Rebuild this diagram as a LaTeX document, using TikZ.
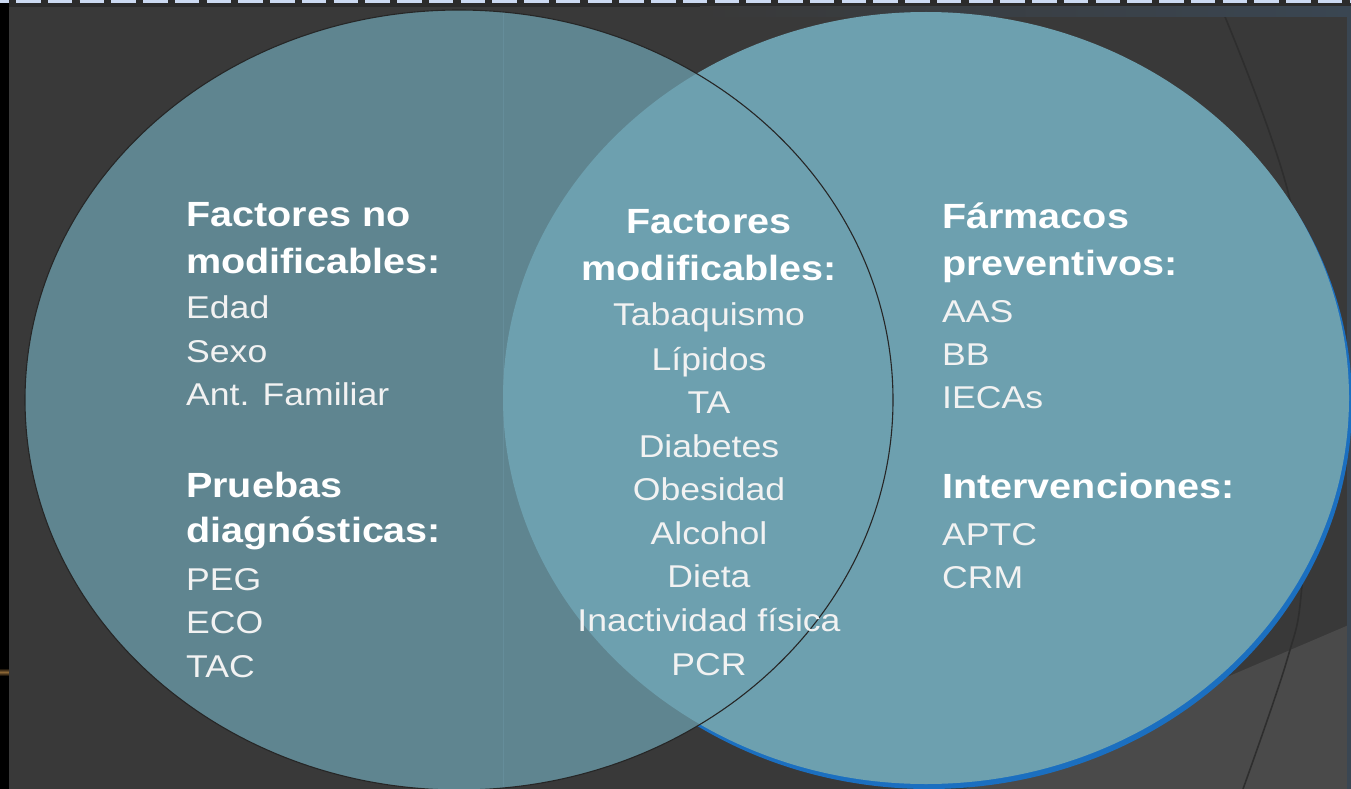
\documentclass[tikz,border=0pt]{standalone}
\usepackage{fontspec}
\newfontfamily\vfont{Liberation Sans}[FakeStretch=1.13]
\definecolor{bgc}{HTML}{393939}
\definecolor{leftc}{HTML}{5F8590}
\definecolor{rightc}{HTML}{6DA0AF}
\definecolor{shadowc}{HTML}{1B6FC0}
\definecolor{dashc}{HTML}{CCDAF2}
\definecolor{outc}{HTML}{262626}
\definecolor{lightbg}{HTML}{4A4A4A}
\definecolor{topdark}{HTML}{2B2B2B}
\definecolor{tintc}{HTML}{3A4652}
\definecolor{glintc}{HTML}{8A6535}
\definecolor{decoc}{HTML}{2E2E2E}
\definecolor{vlinec}{HTML}{658D9A}
\definecolor{itemc}{HTML}{F2F2F2}
\begin{document}
\begin{tikzpicture}[x=1pt,y=-1pt,
  head/.style={font=\vfont\bfseries\fontsize{35}{42}\selectfont, text=white, inner sep=0pt},
  item/.style={font=\vfont\fontsize{31.5}{38}\selectfont, text=itemc, inner sep=0pt},
  lcol/.style={anchor=base west},
  ccol/.style={anchor=base}]
\useasboundingbox (0,0) rectangle (1351,789);
\clip (0,0) rectangle (1351,789);
% background
\fill[bgc] (0,0) rectangle (1351,789);
\fill[lightbg] (965,789) -- (1351,624) -- (1351,789) -- cycle;
\draw[decoc, line width=1.6pt] plot[smooth, tension=0.6] coordinates {(1218,0) (1290,200) (1310,400) (1302,585) (1287,660) (1243,789)};
% top band
\fill[topdark] (0,0) rectangle (1351,7);
\draw[dashc, line width=3.5pt, dash pattern=on 24.5pt off 7.25pt] (-15.75,1.75) -- (1360,1.75);
\shade[left color=bgc, right color=tintc] (700,7) rectangle (1351,17);
\fill[tintc] (1347,7) rectangle (1351,789);
% left black strip
\fill[black] (0,3.5) rectangle (8.5,789);
\shade[top color=black, bottom color=black, middle color=glintc] (0,668) rectangle (8.5,676);
% ellipses
\fill[shadowc] (929,403) ellipse [x radius=423pt, y radius=386pt];
\fill[leftc] (459,400) ellipse [x radius=434pt, y radius=390pt];
\begin{scope}
  \clip (459,400) ellipse [x radius=434pt, y radius=390pt];
  \draw[vlinec, line width=0.6pt] (503,0) -- (503,789);
\end{scope}
\fill[rightc] (926,398) ellipse [x radius=423pt, y radius=386pt];
\draw[outc, line width=1.1pt] (459,400) ellipse [x radius=434pt, y radius=390pt];
% left column
\node[head,lcol] (h1a) at (186,226) {Factores no};
\node[head,lcol] (h1b) at (186,273) {modificables:};
\node[item,lcol] (l1) at (186,318) {Edad};
\node[item,lcol] (l2) at (186,362) {Sexo};
\node[item,lcol] (l3) at (186,405) {Ant. Familiar};
\node[head,lcol] (h2a) at (186,497) {Pruebas};
\node[head,lcol] (h2b) at (186,542) {diagnósticas:};
\node[item,lcol] (l4) at (186,590) {PEG};
\node[item,lcol] (l5) at (186,633) {ECO};
\node[item,lcol] (l6) at (186,677) {TAC};
% center column
\node[head,ccol] (h3a) at (709,233) {Factores};
\node[head,ccol] (h3b) at (709,280) {modificables:};
\node[item,ccol] (c1) at (709,325) {Tabaquismo};
\node[item,ccol] (c2) at (709,370) {Lípidos};
\node[item,ccol] (c3) at (709,413) {TA};
\node[item,ccol] (c4) at (709,457) {Diabetes};
\node[item,ccol] (c5) at (709,500) {Obesidad};
\node[item,ccol] (c6) at (709,544) {Alcohol};
\node[item,ccol] (c7) at (709,587) {Dieta};
\node[item,ccol] (c8) at (709,631) {Inactividad física};
\node[item,ccol] (c9) at (709,675) {PCR};
% right column
\node[head,lcol] (h4a) at (942,228) {Fármacos};
\node[head,lcol] (h4b) at (942,275) {preventivos:};
\node[item,lcol] (r1) at (942,322) {AAS};
\node[item,lcol] (r2) at (942,365) {BB};
\node[item,lcol] (r3) at (942,408) {IECAs};
\node[head,lcol] (h5a) at (942,498) {Intervenciones:};
\node[item,lcol] (r4) at (942,545) {APTC};
\node[item,lcol] (r5) at (942,588) {CRM};
\end{tikzpicture}
\end{document}
